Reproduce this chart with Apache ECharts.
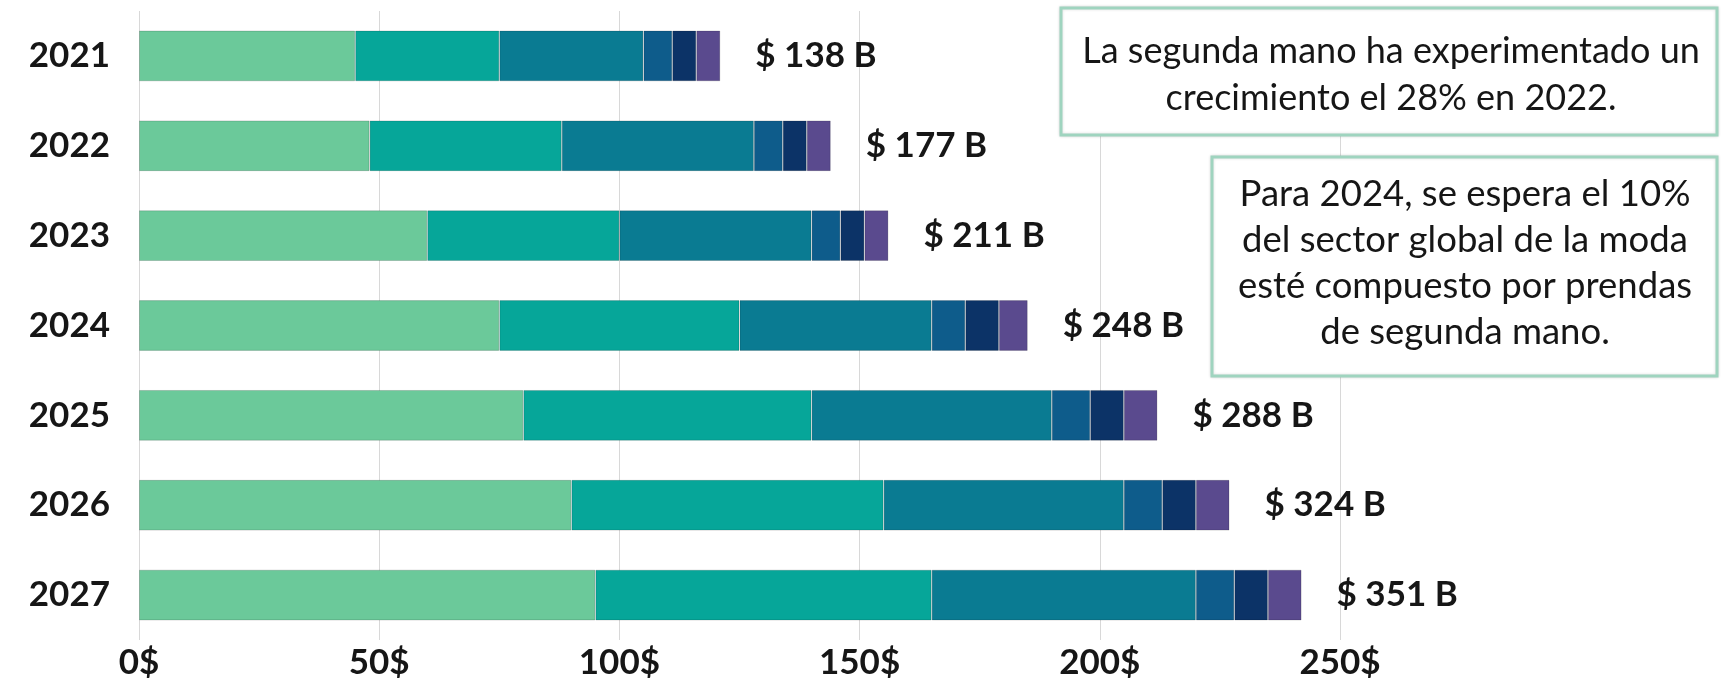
<!DOCTYPE html>
<html>
<head>
<meta charset="utf-8">
<script src="https://cdn.jsdelivr.net/npm/echarts@6/dist/echarts.min.js"></script>
<style>
  html, body { margin: 0; padding: 0; background: #ffffff; }
  #chart { width: 1722px; height: 680px; }
</style>
</head>
<body>
<div id="chart"></div>
<script>
// ---- Data ----
const years = ['2021', '2022', '2023', '2024', '2025', '2026', '2027'];
const seg1 = [45, 48, 60, 75, 80, 90, 95];
const seg2 = [30, 40, 40, 50, 60, 65, 70];
const seg3 = [30, 40, 40, 40, 50, 50, 55];
const seg4 = [6, 6, 6, 7, 8, 8, 8];
const seg5 = [5, 5, 5, 7, 7, 7, 7];
const seg6 = [5, 5, 5, 6, 7, 7, 7];
const totalLabels = ['$ 138 B', '$ 177 B', '$ 211 B', '$ 248 B', '$ 288 B', '$ 324 B', '$ 351 B'];
const xTicks = [0, 50, 100, 150, 200, 250];
const note1 = ['La segunda mano ha experimentado un', 'crecimiento el 28% en 2022.'];
const note2 = ['Para 2024, se espera el 10%', 'del sector global de la moda', 'esté compuesto por prendas', 'de segunda mano.'];

const segments = [seg1, seg2, seg3, seg4, seg5, seg6];
const colors = ['#6bc99a', '#06a699', '#0a7b92', '#0e5c8b', '#0c3367', '#5a4a8e'];

const chart = echarts.init(document.getElementById('chart'), null, { renderer: 'canvas' });

const series = segments.map((arr, i) => ({
  name: 'Segmento ' + (i + 1),
  type: 'bar',
  stack: 'total',
  barWidth: '56.5%',
  data: arr,
  itemStyle: { color: colors[i], borderColor: 'rgba(0,0,0,0.16)', borderWidth: 1 },
  label: i === segments.length - 1 ? {
    show: true,
    position: 'right',
    distance: 35,
    formatter: p => totalLabels[p.dataIndex],
    fontFamily: 'Lato',
    fontWeight: 'bold',
    fontSize: 35,
    color: '#161616'
  } : { show: false },
  emphasis: { disabled: true },
  animation: false
}));

const option = {
  animation: false,
  backgroundColor: '#ffffff',
  grid: { left: 139, right: 382, top: 11, bottom: 37, containLabel: false },
  xAxis: {
    type: 'value',
    min: 0,
    max: 250,
    interval: 50,
    axisLine: { show: false },
    axisTick: { show: false },
    splitLine: { show: true, lineStyle: { color: '#d8d8d8', width: 1 } },
    axisLabel: {
      margin: 5,
      fontFamily: 'Lato',
      fontWeight: 'bold',
      fontSize: 35,
      color: '#161616',
      formatter: v => (xTicks.indexOf(v) >= 0 ? v + '$' : '')
    }
  },
  yAxis: {
    type: 'category',
    data: years,
    inverse: true,
    axisLine: { show: false },
    axisTick: { show: false },
    splitLine: { show: false },
    axisLabel: {
      margin: 29,
      fontFamily: 'Lato',
      fontWeight: 'bold',
      fontSize: 35,
      color: '#161616'
    }
  },
  series: series,
  graphic: [
    {
      type: 'group',
      children: [
        {
          type: 'rect',
          shape: { x: 1061, y: 8, width: 656, height: 127 },
          style: { fill: '#ffffff', stroke: '#9fd4bf', lineWidth: 3, shadowColor: 'rgba(0,0,0,0.15)', shadowBlur: 3 },
          z: 100
        },
        {
          type: 'text',
          x: 1391,
          y: 75,
          z: 101,
          style: {
            text: note1.join('\n'),
            fontFamily: 'Lato',
            fontSize: 36,
            lineHeight: 47,
            fill: '#161616',
            align: 'center',
            verticalAlign: 'middle'
          }
        },
        {
          type: 'rect',
          shape: { x: 1212, y: 157, width: 505, height: 219 },
          style: { fill: '#ffffff', stroke: '#9fd4bf', lineWidth: 3, shadowColor: 'rgba(0,0,0,0.15)', shadowBlur: 3 },
          z: 100
        },
        {
          type: 'text',
          x: 1465,
          y: 263,
          z: 101,
          style: {
            text: note2.join('\n'),
            fontFamily: 'Lato',
            fontSize: 36.5,
            lineHeight: 46,
            fill: '#161616',
            align: 'center',
            verticalAlign: 'middle'
          }
        }
      ]
    }
  ]
};

chart.setOption(option);
</script>
</body>
</html>
